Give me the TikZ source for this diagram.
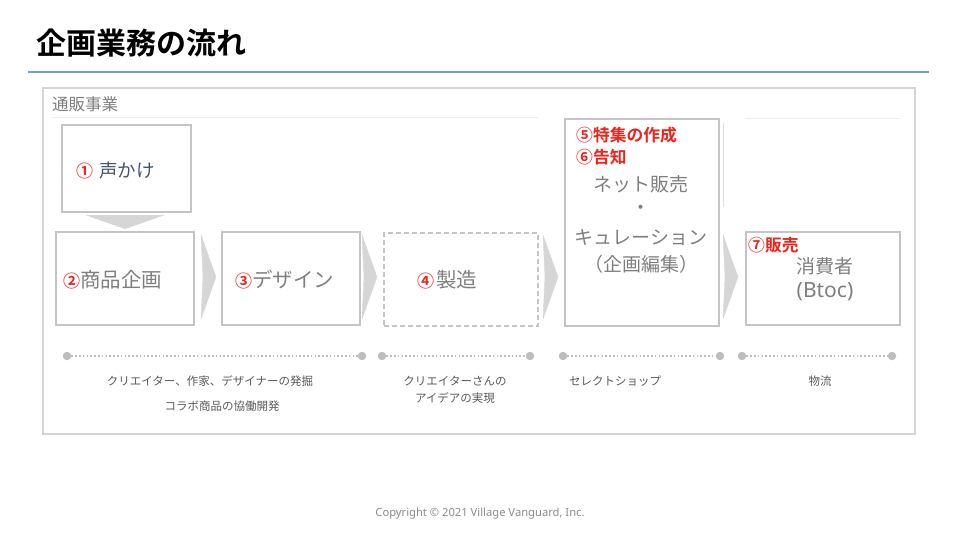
\documentclass[tikz,border=0pt]{standalone}
\usepackage{fontspec}
\setmainfont{Noto Sans CJK JP}
\newfontfamily\jpbold{Noto Sans CJK JP Bold}
\newfontfamily\latinf{Noto Sans}
\usetikzlibrary{calc}
\definecolor{boxgray}{HTML}{C4C4C4}
\definecolor{arrgray}{HTML}{D6D6D6}
\definecolor{txtgray}{HTML}{7F7F7F}
\definecolor{lbgray}{HTML}{595959}
\definecolor{darkblue}{HTML}{44546A}
\definecolor{redc}{HTML}{F0231B}
\definecolor{bluel}{HTML}{6F9FD2}
\definecolor{framegray}{HTML}{D4D4D4}
\definecolor{dotgray}{HTML}{BDBDBD}
\begin{document}
\begin{tikzpicture}[x=1pt,y=-1pt,
  box/.style={draw=boxgray,line width=2.2pt,anchor=north west,inner sep=0pt},
  dbox/.style={box,dashed,dash pattern=on 5pt off 3pt},
  chev/.style={fill=arrgray,draw=boxgray!70,line width=0.4pt},
  big/.style={font=\fontsize{19}{24}\selectfont,text=txtgray,inner sep=0pt},
  redt/.style={font=\jpbold\fontsize{16.8}{18}\selectfont,text=redc,inner sep=0pt},
  lbl/.style={font=\fontsize{11.5}{14}\selectfont,text=lbgray,inner sep=0pt},
  dotline/.style={dotgray,line width=1.5pt,dash pattern=on 1.5pt off 2.3pt},
  enddot/.style={circle,fill=dotgray,minimum size=8.5pt,inner sep=0pt}
]
\useasboundingbox (0,0) rectangle (960,540);
% title
\node[anchor=west,inner sep=0pt,font=\jpbold\fontsize{30}{33}\selectfont] (title) at (36,43) {企画業務の流れ};
\coordinate (bl1) at (28,72);
\coordinate (bl2) at (929,72);
\draw[bluel,line width=2.6pt] (bl1) -- (bl2);
% outer frame
\node[draw=framegray,line width=1.6pt,anchor=north west,minimum width=872pt,minimum height=346pt,inner sep=0pt] (frame) at (42,87) {};
\node[anchor=west,inner sep=0pt,font=\fontsize{16.5}{18}\selectfont,text=txtgray] (hdr) at (52,104) {通販事業};
\coordinate (hl1) at (52,117);
\coordinate (hl2) at (538,117);
\coordinate (hl3) at (745,118);
\coordinate (hl4) at (900,118);
\draw[black!7,line width=0.8pt] (hl1) -- (hl2);
\draw[black!7,line width=0.8pt] (hl3) -- (hl4);
\coordinate (vl1) at (723,123);
\coordinate (vl2) at (723,207);
\draw[black!12,line width=0.8pt] (vl1) -- (vl2);
% boxes
\node[box,minimum width=129pt,minimum height=87pt] (b1) at (61,124) {};
\node[box,minimum width=138pt,minimum height=93pt] (b2) at (55,231) {};
\node[box,minimum width=138pt,minimum height=93pt] (b3) at (221,231) {};
\node[dbox,minimum width=154pt,minimum height=93pt] (b4) at (383,232) {};
\node[box,minimum width=154pt,minimum height=207pt] (b5) at (564,118) {};
\node[box,minimum width=154pt,minimum height=93pt] (b6) at (745,231) {};
% down arrow
\fill[arrgray] (85,215) -- (165,215) -- (125,229) -- cycle;
% chevrons
\foreach \x in {201,362,543,723}{
  \draw[chev] (\x,235) -- (\x+15,277) -- (\x,319) -- (\x+2,277) -- cycle;
}
% texts
\node[anchor=west,inner sep=0pt] (t1) at (76,170) {\textcolor{redc}{\jpbold\fontsize{17}{20}\selectfont ①}\hspace{6pt}{\fontsize{18.5}{20}\selectfont\color{darkblue}声かけ}};
\node[anchor=west,inner sep=0pt] (t2) at (63,280) {\textcolor{redc}{\jpbold\fontsize{17}{20}\selectfont ②}{\fontsize{20.5}{24}\selectfont\color{txtgray}商品企画}};
\node[anchor=west,inner sep=0pt] (t3) at (235,280) {\textcolor{redc}{\jpbold\fontsize{17}{20}\selectfont ③}{\fontsize{20.5}{24}\selectfont\color{txtgray}デザイン}};
\node[anchor=west,inner sep=0pt] (t4) at (417,280) {\textcolor{redc}{\jpbold\fontsize{17}{20}\selectfont ④}\hspace{2pt}{\fontsize{20.5}{24}\selectfont\color{txtgray}製造}};
\node[redt,anchor=west] (t5a) at (576,135) {⑤特集の作成};
\node[redt,anchor=west] (t5b) at (576,157) {⑥告知};
\node[big] (t5c) at (641,184) {ネット販売};
\node[big] (t5d) at (641,210) {・};
\node[big] (t5e) at (641,238) {キュレーション};
\node[big] (t5f) at (641,264) {（企画編集）};
\node[redt,anchor=west] (t6a) at (748,245) {⑦販売};
\node[big] (t6b) at (825,266) {消費者};
\node[big,font=\latinf\fontsize{21}{24}\selectfont] (t6c) at (825,292) {(Btoc)};
% dotted timelines
\foreach \a/\b/\n in {67/362/1,382/530/2,563/720/3,742/892/4}{
  \node[enddot] (s\n) at (\a,356) {};
  \node[enddot] (e\n) at (\b,356) {};
  \draw[dotline] (s\n) -- (e\n);
}
\node[lbl] (l1) at (210,381) {クリエイター、作家、デザイナーの発掘};
\node[lbl] (l2) at (222,406) {コラボ商品の協働開発};
\node[lbl] (l3) at (455,381) {クリエイターさんの};
\node[lbl] (l4) at (455,398) {アイデアの実現};
\node[lbl] (l5) at (615,381) {セレクトショップ};
\node[lbl] (l6) at (820,381) {物流};
\node[inner sep=0pt,font=\latinf\fontsize{11.2}{12}\selectfont,text=black!45] (copy) at (480,514) {Copyright © 2021 Village Vanguard, Inc.};
\end{tikzpicture}
\end{document}
